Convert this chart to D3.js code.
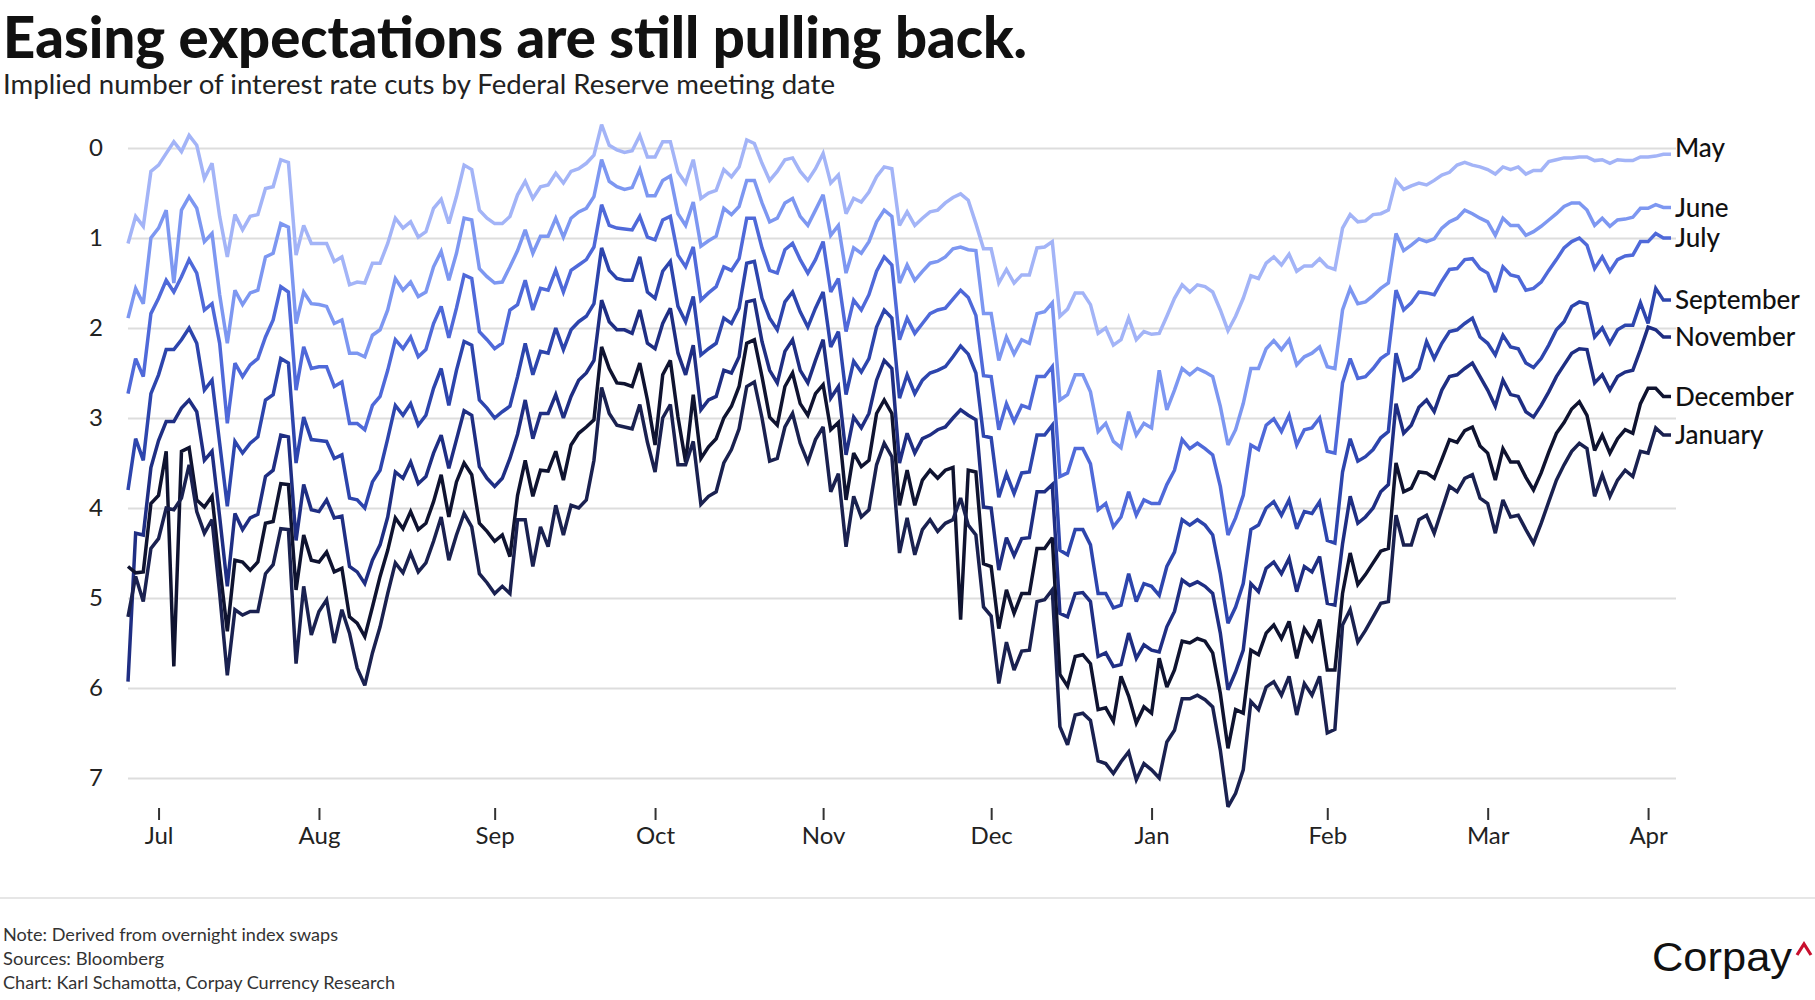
<!DOCTYPE html>
<html>
<head>
<meta charset="utf-8">
<script src="https://cdn.jsdelivr.net/npm/d3@7"></script>
<style>
  body { margin: 0; background: #fff; }
  svg { display: block; font-family: Lato, "Noto Sans", sans-serif; }
</style>
</head>
<body>
<svg width="1815" height="1000"></svg>
<script>
// one value per weekday, first one is Tue 27 Jun 2023
const startDate = "2023-06-27"
const monthLabels = ["Jul", "Aug", "Sep", "Oct", "Nov", "Dec", "Jan", "Feb", "Mar", "Apr"]
const meetings = ["May", "June", "July", "September", "November", "December", "January"]

const may = [
  1.06, 0.76, 0.87, 0.26, 0.19, 0.06, -0.07, 0.04, -0.14, -0.03,
  0.34, 0.17, 0.76, 1.21, 0.74, 0.91, 0.76, 0.74, 0.45, 0.43,
  0.13, 0.16, 1.19, 0.86, 1.06, 1.06, 1.06, 1.26, 1.21, 1.52,
  1.49, 1.50, 1.28, 1.28, 1.06, 0.78, 0.89, 0.82, 0.99, 0.93,
  0.67, 0.57, 0.84, 0.54, 0.19, 0.24, 0.69, 0.78, 0.84, 0.84,
  0.76, 0.52, 0.37, 0.56, 0.43, 0.41, 0.28, 0.39, 0.26, 0.23,
  0.17, 0.08, -0.26, -0.03, 0.02, 0.05, 0.03, -0.14, 0.10, 0.10,
  -0.07, -0.07, 0.27, 0.39, 0.13, 0.56, 0.50, 0.47, 0.24, 0.32,
  0.21, -0.09, -0.05, 0.17, 0.36, 0.26, 0.13, 0.11, 0.26, 0.36,
  0.23, 0.06, 0.39, 0.30, 0.73, 0.56, 0.60, 0.49, 0.32, 0.21,
  0.23, 0.86, 0.71, 0.86, 0.78, 0.71, 0.69, 0.61, 0.55, 0.51,
  0.58, 0.84, 1.12, 1.12, 1.50, 1.35, 1.50, 1.41, 1.41, 1.11,
  1.10, 1.04, 1.87, 1.79, 1.61, 1.61, 1.74, 2.06, 2.00, 2.19,
  2.13, 1.89, 2.13, 2.04, 2.07, 2.06, 1.87, 1.67, 1.52, 1.60,
  1.52, 1.54, 1.60, 1.80, 2.03, 1.87, 1.67, 1.42, 1.45, 1.28,
  1.21, 1.30, 1.18, 1.37, 1.31, 1.31, 1.23, 1.32, 1.35, 0.89,
  0.74, 0.82, 0.81, 0.74, 0.73, 0.69, 0.36, 0.46, 0.42, 0.39,
  0.41, 0.36, 0.30, 0.27, 0.19, 0.16, 0.19, 0.21, 0.24, 0.29,
  0.21, 0.24, 0.21, 0.29, 0.25, 0.25, 0.15, 0.13, 0.11, 0.11,
  0.10, 0.10, 0.14, 0.13, 0.17, 0.13, 0.14, 0.14, 0.10, 0.10,
  0.09, 0.07, 0.07
]
const june = [
  1.89, 1.56, 1.73, 1.00, 0.89, 0.69, 1.50, 0.69, 0.54, 0.67,
  1.04, 0.95, 1.63, 2.17, 1.58, 1.74, 1.61, 1.58, 1.21, 1.17,
  0.84, 0.88, 1.95, 1.60, 1.73, 1.74, 1.76, 1.95, 1.91, 2.28,
  2.28, 2.32, 2.08, 2.02, 1.80, 1.45, 1.58, 1.49, 1.65, 1.60,
  1.32, 1.15, 1.47, 1.17, 0.78, 0.80, 1.34, 1.43, 1.50, 1.49,
  1.32, 1.14, 0.91, 1.17, 0.98, 0.98, 0.78, 0.99, 0.78, 0.71,
  0.67, 0.54, 0.13, 0.37, 0.43, 0.46, 0.44, 0.24, 0.53, 0.53,
  0.36, 0.31, 0.73, 0.86, 0.60, 1.09, 1.03, 0.98, 0.67, 0.74,
  0.65, 0.36, 0.36, 0.61, 0.82, 0.78, 0.61, 0.56, 0.76, 0.86,
  0.69, 0.52, 0.97, 0.86, 1.39, 1.11, 1.17, 1.04, 0.82, 0.69,
  0.76, 1.50, 1.30, 1.47, 1.37, 1.28, 1.26, 1.21, 1.12, 1.10,
  1.13, 1.14, 1.84, 1.84, 2.36, 2.10, 2.29, 2.13, 2.17, 1.84,
  1.82, 1.72, 2.80, 2.74, 2.52, 2.52, 2.71, 3.15, 3.06, 3.26,
  3.33, 2.93, 3.19, 3.06, 3.11, 2.47, 2.91, 2.69, 2.45, 2.52,
  2.45, 2.49, 2.54, 2.87, 3.30, 3.13, 2.84, 2.45, 2.45, 2.23,
  2.14, 2.24, 2.13, 2.41, 2.32, 2.28, 2.21, 2.43, 2.45, 1.80,
  1.56, 1.73, 1.71, 1.64, 1.56, 1.50, 0.95, 1.14, 1.08, 1.01,
  1.04, 1.01, 0.89, 0.82, 0.78, 0.69, 0.73, 0.78, 0.82, 0.97,
  0.78, 0.86, 0.86, 0.97, 0.93, 0.87, 0.80, 0.73, 0.65, 0.61,
  0.61, 0.69, 0.86, 0.78, 0.87, 0.80, 0.79, 0.77, 0.67, 0.67,
  0.63, 0.66, 0.66
]
const july = [
  2.73, 2.34, 2.54, 1.84, 1.67, 1.47, 1.60, 1.43, 1.24, 1.39,
  1.80, 1.73, 2.17, 3.06, 2.39, 2.54, 2.41, 2.34, 2.10, 1.91,
  1.54, 1.60, 2.69, 2.21, 2.45, 2.43, 2.43, 2.65, 2.60, 3.06,
  3.06, 3.13, 2.86, 2.76, 2.47, 2.13, 2.23, 2.10, 2.32, 2.24,
  1.95, 1.76, 2.11, 1.78, 1.41, 1.45, 2.04, 2.13, 2.23, 2.17,
  1.80, 1.74, 1.47, 1.80, 1.56, 1.58, 1.36, 1.60, 1.36, 1.30,
  1.24, 1.10, 0.63, 0.86, 0.89, 0.90, 0.91, 0.76, 0.99, 1.02,
  0.80, 0.76, 1.19, 1.32, 1.10, 1.69, 1.61, 1.54, 1.32, 1.36,
  1.23, 0.78, 0.78, 1.11, 1.36, 1.39, 1.13, 1.06, 1.24, 1.39,
  1.24, 1.04, 1.60, 1.45, 2.04, 1.69, 1.80, 1.63, 1.37, 1.21,
  1.30, 2.13, 1.89, 2.06, 1.95, 1.84, 1.80, 1.78, 1.68, 1.58,
  1.66, 1.86, 2.53, 2.54, 3.13, 2.84, 3.04, 2.86, 2.89, 2.54,
  2.54, 2.43, 3.65, 3.61, 3.34, 3.34, 3.51, 4.02, 3.95, 4.21,
  4.10, 3.82, 4.08, 3.91, 3.95, 3.95, 3.74, 3.58, 3.24, 3.34,
  3.28, 3.34, 3.41, 3.76, 4.30, 4.11, 3.86, 3.30, 3.35, 3.08,
  3.01, 3.15, 2.97, 3.30, 3.13, 3.11, 3.00, 3.37, 3.39, 2.61,
  2.34, 2.56, 2.54, 2.45, 2.34, 2.28, 1.58, 1.80, 1.72, 1.60,
  1.61, 1.63, 1.48, 1.35, 1.34, 1.24, 1.23, 1.34, 1.39, 1.60,
  1.32, 1.41, 1.43, 1.58, 1.56, 1.49, 1.36, 1.24, 1.11, 1.04,
  1.00, 1.08, 1.34, 1.21, 1.37, 1.24, 1.20, 1.19, 1.04, 1.04,
  0.95, 1.00, 1.00
]
const september = [
  3.80, 3.23, 3.47, 2.73, 2.52, 2.24, 2.24, 2.13, 2.00, 2.17,
  2.69, 2.58, 3.28, 3.98, 3.26, 3.39, 3.28, 3.21, 2.80, 2.74,
  2.34, 2.39, 3.50, 2.99, 3.24, 3.25, 3.26, 3.45, 3.41, 3.89,
  3.91, 4.00, 3.71, 3.58, 3.23, 2.86, 2.97, 2.84, 3.08, 2.97,
  2.67, 2.45, 2.86, 2.47, 2.15, 2.19, 2.80, 2.89, 3.00, 2.93,
  2.87, 2.54, 2.17, 2.52, 2.26, 2.28, 2.00, 2.24, 2.02, 1.93,
  1.87, 1.73, 1.11, 1.36, 1.45, 1.47, 1.47, 1.21, 1.60, 1.67,
  1.37, 1.26, 1.76, 1.93, 1.65, 2.30, 2.23, 2.17, 1.89, 1.95,
  1.78, 1.28, 1.26, 1.67, 1.89, 2.02, 1.71, 1.60, 1.82, 1.99,
  1.78, 1.60, 2.21, 2.04, 2.74, 2.37, 2.49, 2.34, 1.99, 1.80,
  1.89, 2.78, 2.52, 2.73, 2.58, 2.50, 2.47, 2.43, 2.32, 2.20,
  2.29, 2.50, 3.20, 3.22, 3.88, 3.62, 3.84, 3.61, 3.60, 3.19,
  3.19, 3.08, 4.47, 4.52, 4.24, 4.24, 4.41, 4.95, 4.95, 5.11,
  5.08, 4.73, 5.04, 4.84, 4.87, 4.97, 4.65, 4.49, 4.13, 4.19,
  4.13, 4.19, 4.30, 4.73, 5.28, 5.10, 4.84, 4.24, 4.19, 4.00,
  3.93, 4.08, 3.91, 4.23, 4.04, 4.06, 3.93, 4.36, 4.39, 3.60,
  3.23, 3.48, 3.43, 3.35, 3.22, 3.15, 2.28, 2.58, 2.54, 2.45,
  2.15, 2.34, 2.17, 2.04, 2.02, 1.95, 1.89, 2.10, 2.17, 2.30,
  2.08, 2.21, 2.23, 2.39, 2.44, 2.34, 2.19, 2.02, 1.93, 1.76,
  1.71, 1.73, 2.10, 2.00, 2.17, 2.02, 1.97, 1.97, 1.72, 1.95,
  1.56, 1.69, 1.69
]
const november = [
  5.93, 4.28, 4.30, 3.55, 3.25, 3.04, 3.04, 2.89, 2.80, 2.93,
  3.47, 3.37, 4.10, 4.87, 4.06, 4.24, 4.11, 4.07, 3.65, 3.58,
  3.19, 3.21, 4.36, 3.74, 4.02, 4.04, 3.91, 4.11, 4.09, 4.65,
  4.71, 4.84, 4.58, 4.41, 4.10, 3.60, 3.67, 3.49, 3.73, 3.65,
  3.39, 3.19, 3.56, 3.24, 2.92, 2.97, 3.54, 3.67, 3.76, 3.67,
  3.45, 3.18, 2.80, 3.23, 2.95, 2.95, 2.74, 3.00, 2.76, 2.58,
  2.50, 2.36, 1.69, 1.93, 2.02, 2.02, 2.06, 1.80, 2.17, 2.23,
  1.95, 1.78, 2.28, 2.52, 2.19, 2.91, 2.80, 2.76, 2.47, 2.50,
  2.32, 1.71, 1.69, 2.15, 2.47, 2.61, 2.26, 2.13, 2.47, 2.61,
  2.36, 2.13, 2.78, 2.65, 3.41, 2.99, 3.11, 2.95, 2.58, 2.36,
  2.45, 3.50, 3.17, 3.39, 3.23, 3.19, 3.13, 3.10, 3.00, 2.91,
  2.97, 3.02, 3.99, 4.00, 4.69, 4.33, 4.53, 4.34, 4.33, 3.82,
  3.82, 3.74, 5.17, 5.21, 4.95, 4.94, 5.04, 5.65, 5.61, 5.76,
  5.74, 5.39, 5.67, 5.52, 5.58, 5.60, 5.32, 5.15, 4.80, 4.86,
  4.82, 4.87, 4.95, 5.39, 6.02, 5.82, 5.58, 4.84, 4.93, 4.67,
  4.60, 4.73, 4.56, 4.93, 4.65, 4.71, 4.54, 5.06, 5.08, 4.40,
  3.87, 4.17, 4.10, 4.00, 3.82, 3.74, 2.84, 3.17, 3.08, 2.88,
  2.80, 2.93, 2.69, 2.54, 2.52, 2.45, 2.39, 2.54, 2.69, 2.87,
  2.58, 2.74, 2.76, 2.93, 2.99, 2.86, 2.71, 2.54, 2.41, 2.28,
  2.23, 2.24, 2.61, 2.52, 2.69, 2.54, 2.49, 2.47, 2.24, 1.99,
  2.02, 2.10, 2.10
]
const december = [
  4.65, 4.72, 4.71, 3.95, 3.86, 3.37, 5.76, 3.37, 3.33, 3.91,
  3.99, 3.87, 4.65, 5.37, 4.58, 4.60, 4.69, 4.60, 4.17, 4.15,
  3.73, 3.74, 4.91, 4.30, 4.58, 4.60, 4.49, 4.71, 4.67, 5.21,
  5.28, 5.43, 5.10, 4.76, 4.47, 4.11, 4.23, 4.04, 4.24, 4.17,
  3.93, 3.63, 4.10, 3.71, 3.50, 3.63, 4.17, 4.26, 4.37, 4.30,
  4.54, 3.86, 3.47, 3.87, 3.58, 3.59, 3.37, 3.69, 3.30, 3.17,
  3.10, 3.02, 2.21, 2.45, 2.61, 2.62, 2.65, 2.39, 2.80, 3.30,
  2.52, 2.36, 2.99, 3.49, 2.74, 3.45, 3.32, 3.23, 3.00, 2.87,
  2.65, 2.17, 2.13, 2.54, 2.99, 3.08, 2.65, 2.50, 2.84, 2.97,
  2.73, 2.63, 3.13, 3.05, 3.91, 3.39, 3.54, 3.47, 2.95, 2.80,
  2.95, 3.97, 3.58, 3.97, 3.69, 3.58, 3.67, 3.58, 3.55, 5.24,
  3.58, 3.60, 4.62, 4.65, 5.34, 4.91, 5.17, 4.95, 4.95, 4.45,
  4.45, 4.33, 5.85, 5.98, 5.65, 5.63, 5.73, 6.24, 6.22, 6.37,
  5.87, 6.09, 6.39, 6.21, 6.28, 5.67, 5.99, 5.80, 5.48, 5.50,
  5.45, 5.48, 5.61, 6.06, 6.67, 6.24, 6.28, 5.58, 5.63, 5.39,
  5.30, 5.45, 5.26, 5.67, 5.34, 5.47, 5.24, 5.80, 5.80, 4.95,
  4.50, 4.85, 4.74, 4.61, 4.48, 4.45, 3.50, 3.82, 3.78, 3.60,
  3.61, 3.67, 3.46, 3.24, 3.27, 3.14, 3.10, 3.31, 3.39, 3.69,
  3.34, 3.49, 3.49, 3.66, 3.80, 3.61, 3.38, 3.17, 3.05, 2.90,
  2.82, 2.97, 3.36, 3.19, 3.39, 3.23, 3.13, 3.17, 2.84, 2.67,
  2.67, 2.76, 2.76
]
const january = [
  5.21, 4.76, 5.04, 4.45, 4.34, 4.00, 4.02, 3.89, 3.52, 4.04,
  4.28, 4.13, 4.95, 5.86, 5.13, 5.19, 5.15, 5.15, 4.73, 4.63,
  4.23, 4.24, 5.73, 4.87, 5.41, 5.15, 5.02, 5.50, 5.13, 5.39,
  5.78, 5.97, 5.61, 5.32, 4.95, 4.61, 4.72, 4.50, 4.71, 4.61,
  4.37, 4.10, 4.58, 4.30, 4.06, 4.21, 4.73, 4.83, 4.95, 4.87,
  4.95, 4.13, 4.13, 4.65, 4.21, 4.43, 3.97, 4.30, 3.97, 4.00,
  3.91, 3.47, 2.66, 2.95, 3.08, 3.10, 3.12, 2.85, 3.27, 3.60,
  3.00, 2.85, 3.52, 3.52, 3.26, 3.96, 3.87, 3.82, 3.50, 3.35,
  3.12, 2.65, 2.60, 3.00, 3.48, 3.45, 3.10, 2.95, 3.28, 3.49,
  3.24, 3.10, 3.82, 3.62, 4.43, 3.87, 4.10, 4.02, 3.52, 3.28,
  3.43, 4.50, 4.11, 4.52, 4.24, 4.13, 4.26, 4.17, 4.13, 3.89,
  4.19, 4.30, 5.10, 5.20, 5.95, 5.49, 5.80, 5.59, 5.58, 5.04,
  5.02, 4.91, 6.43, 6.63, 6.30, 6.28, 6.36, 6.81, 6.84, 6.95,
  6.82, 6.71, 7.02, 6.84, 6.91, 7.00, 6.60, 6.47, 6.12, 6.12,
  6.08, 6.13, 6.21, 6.69, 7.32, 7.17, 6.91, 6.15, 6.24, 5.99,
  5.93, 6.08, 5.87, 6.30, 5.95, 6.08, 5.87, 6.50, 6.46, 5.30,
  5.13, 5.49, 5.36, 5.21, 5.06, 5.04, 4.08, 4.41, 4.41, 4.13,
  4.08, 4.28, 4.02, 3.76, 3.82, 3.67, 3.63, 3.89, 3.95, 4.28,
  3.91, 4.10, 4.08, 4.24, 4.39, 4.17, 3.93, 3.69, 3.52, 3.37,
  3.28, 3.34, 3.87, 3.63, 3.87, 3.69, 3.58, 3.65, 3.37, 3.39,
  3.11, 3.19, 3.19
]

const series = [may, june, july, september, november, december, january]
const colors = ["#a3b4f7", "#7d97f1", "#4f69d9", "#2d45ad", "#1f2e83", "#0f1330", "#1a2150"]

const svg = d3.select("svg")
svg.append("rect").attr("width", 1815).attr("height", 1000).attr("fill", "#fff")

const n = may.length
const start = d3.timeParse("%Y-%m-%d")(startDate)
const dates = d3.timeDay.range(start, d3.timeDay.offset(start, 400))
    .filter(d => d.getDay() !== 0 && d.getDay() !== 6)
    .slice(0, n)
// first weekday of every month gets a tick
const tickIdx = d3.range(1, n).filter(i => dates[i].getMonth() !== dates[i - 1].getMonth())

const x = d3.scaleLinear().domain([0, n - 1]).range([128, 1671])
const y = d3.scaleLinear().domain([0, 7]).range([148, 778])

// title block
svg.append("text").attr("x", 3).attr("y", 58)
    .attr("font-size", 58).attr("font-weight", 900).attr("fill", "#111")
    .attr("textLength", 1024).attr("lengthAdjust", "spacingAndGlyphs")
    .text("Easing expectations are still pulling back.")
svg.append("text").attr("x", 3).attr("y", 94)
    .attr("font-size", 26).attr("fill", "#222")
    .attr("textLength", 832).attr("lengthAdjust", "spacingAndGlyphs")
    .text("Implied number of interest rate cuts by Federal Reserve meeting date")

// y grid + labels
svg.append("g")
    .attr("transform", "translate(128,0)")
    .call(d3.axisLeft(y).tickValues(d3.range(0, 8)).tickFormat(d3.format("d"))
        .tickSize(-(1676 - 128)).tickPadding(25))
    .call(g => g.select(".domain").remove())
    .call(g => g.selectAll(".tick line").attr("stroke", "#dddddd").attr("stroke-width", 1.8))
    .call(g => g.selectAll(".tick text").attr("font-size", 24).attr("fill", "#222")
        .attr("font-family", "Lato, 'Noto Sans', sans-serif"))

// month axis
svg.append("g")
    .attr("transform", "translate(0,808)")
    .call(d3.axisBottom(x).tickValues(tickIdx).tickFormat((d, k) => monthLabels[k]).tickSize(12).tickPadding(7))
    .call(g => g.select(".domain").remove())
    .call(g => g.selectAll(".tick line").attr("stroke", "#333").attr("stroke-width", 2))
    .call(g => g.selectAll(".tick text").attr("font-size", 24).attr("fill", "#222")
        .attr("font-family", "Lato, 'Noto Sans', sans-serif"))

// the lines
const line = d3.line().x((d, i) => x(i)).y(d => y(d))
series.forEach((s, k) => {
    svg.append("path")
        .datum(s)
        .attr("fill", "none")
        .attr("stroke", colors[k])
        .attr("stroke-width", 3.5)
        .attr("stroke-linejoin", "miter")
        .attr("stroke-miterlimit", 3)
        .attr("d", line)
})

// end labels (May sits a touch higher, on the zero line)
series.forEach((s, k) => {
    svg.append("text")
        .attr("x", x(n - 1) + 4)
        .attr("y", y(s[n - 1]) - (k === 0 ? 6 : 0))
        .attr("dy", "0.35em")
        .attr("font-size", 26)
        .attr("font-weight", 500)
        .attr("fill", "#111")
        .text(meetings[k])
})

// footer
svg.append("line").attr("x1", 0).attr("x2", 1815).attr("y1", 898).attr("y2", 898)
    .attr("stroke", "#e6e6e6").attr("stroke-width", 2)
const notes = [
    ["Note: Derived from overnight index swaps", 941, 335],
    ["Sources: Bloomberg", 965, 161],
    ["Chart: Karl Schamotta, Corpay Currency Research", 989, 392]
]
notes.forEach(([t, yy, w]) => {
    svg.append("text").attr("x", 3).attr("y", yy)
        .attr("font-size", 17).attr("fill", "#333")
        .attr("textLength", w).attr("lengthAdjust", "spacingAndGlyphs")
        .text(t)
})
svg.append("text").attr("x", 1652).attr("y", 971)
    .attr("font-family", "'Liberation Sans', Arial, sans-serif")
    .attr("font-size", 40).attr("fill", "#111")
    .attr("textLength", 140).attr("lengthAdjust", "spacingAndGlyphs")
    .text("Corpay")
svg.append("path").attr("d", "M1797,955 L1804,944 L1811,955")
    .attr("fill", "none").attr("stroke", "#c8102e").attr("stroke-width", 3.2)
</script>
</body>
</html>
